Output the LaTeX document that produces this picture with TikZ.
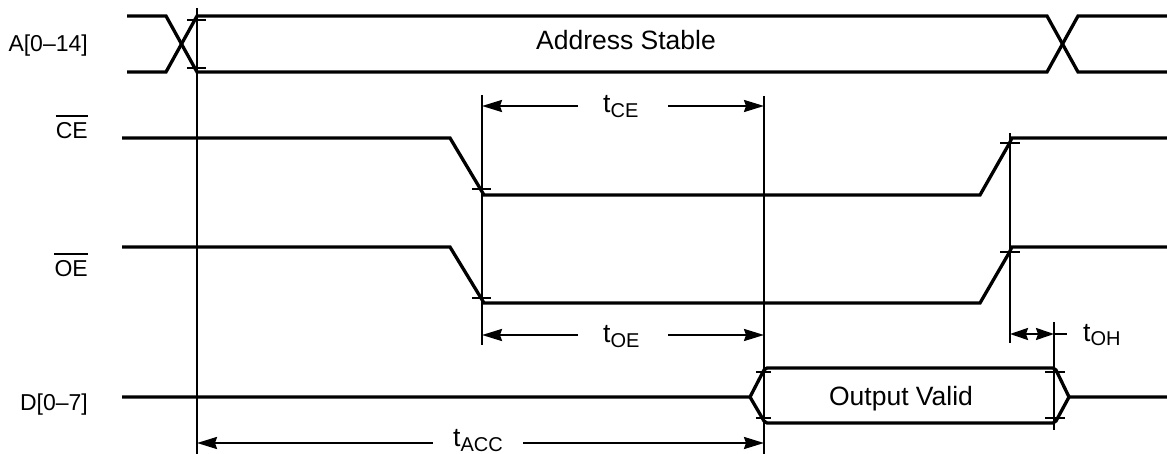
\documentclass[tikz,border=0pt]{standalone}
\usepackage{fontspec}
\setmainfont{Liberation Sans}
\usetikzlibrary{arrows.meta}
\newcommand\tlab[1]{t\raisebox{-5pt}{\fontsize{20}{20}\selectfont #1}}
\begin{document}
\begin{tikzpicture}[x=1pt,y=-1pt,
  sig/.style={line width=3.3pt},
  guide/.style={line width=2.2pt},
  tickmark/.style={line width=2pt},
  dim/.style={line width=2.2pt,-{Stealth[length=20pt,width=12pt,inset=2pt]}},
  dimsmall/.style={line width=2.2pt,{Stealth[length=18pt,width=12pt,inset=2pt]}-{Stealth[length=18pt,width=12pt,inset=2pt]}},
  lab/.style={inner sep=0pt,anchor=base east,font=\fontsize{23}{27}\selectfont},
  inner/.style={inner sep=0pt,anchor=base,font=\fontsize{26.5}{30}\selectfont},
  tl/.style={inner sep=0pt,anchor=base west,font=\fontsize{26.5}{30}\selectfont}]
\useasboundingbox (0,0) rectangle (1167,454);

% signal labels
\node[lab] (la) at (88,52) {A[0–14]};
\node[lab] (lce) at (88,139) {CE};
\node[lab] (loe) at (88,277) {OE};
\node[lab] (ld) at (88,410) {D[0–7]};
\draw[guide] ([yshift=7pt]lce.north west) -- ([yshift=7pt]lce.north east);
\draw[guide] ([yshift=7pt]loe.north west) -- ([yshift=7pt]loe.north east);

% address bus
\draw[sig] (127,16) -- (166,16) -- (197,72) -- (1047,72) -- (1078,16) -- (1167,16);
\draw[sig] (127,72) -- (166,72) -- (197,16) -- (1047,16) -- (1078,72) -- (1167,72);
\node[inner] (addr) at (626,50) {Address Stable};

% CE
\draw[sig] (122,138) -- (450,138) -- (481,190) -- (484,195) -- (980,195) -- (1009,144) -- (1012,138) -- (1167,138);
% OE
\draw[sig] (122,247) -- (450,247) -- (481,298) -- (484,303) -- (980,303) -- (1009,253) -- (1012,247) -- (1167,247);
% D
\draw[sig] (122,397) -- (750,397) -- (764,370) -- (767,368) -- (1053,368) -- (1056,370) -- (1069,397) -- (1167,397);
\draw[sig] (750,397) -- (764,421) -- (767,423) -- (1053,423) -- (1056,421) -- (1069,397);
\node[inner] (outv) at (901,405) {Output Valid};

% guide verticals
\coordinate (g1t) at (197,8);   \coordinate (g1b) at (197,454);
\coordinate (g2t) at (482,95);  \coordinate (g2b) at (482,345);
\coordinate (g3t) at (764,96);  \coordinate (g3b) at (764,454);
\coordinate (g4t) at (1010,133);\coordinate (g4b) at (1010,343);
\coordinate (g5t) at (1054,322);\coordinate (g5b) at (1054,430);
\draw[guide] (g1t) -- (g1b);
\draw[guide] (g2t) -- (g2b);
\draw[guide] (g3t) -- (g3b);
\draw[guide] (g4t) -- (g4b);
\draw[guide] (g5t) -- (g5b);

% ticks
\draw[tickmark] (187,20) -- (206,20);
\draw[tickmark] (187,68) -- (206,68);
\draw[tickmark] (472,189) -- (491,189);
\draw[tickmark] (472,298) -- (491,298);
\draw[tickmark] (1000,143) -- (1020,143);
\draw[tickmark] (1000,252) -- (1020,252);
\draw[tickmark] (756,372) -- (771,372);
\draw[tickmark] (756,418) -- (771,418);
\draw[tickmark] (1045,372) -- (1065,372);
\draw[tickmark] (1045,418) -- (1065,418);

% tCE
\node[tl] (tce) at (603,113) {\tlab{CE}};
\coordinate (tceL) at (578,106); \coordinate (tceR) at (668,106);
\draw[dim] (tceL) -- (g2t |- tceL);
\draw[dim] (tceR) -- (g3t |- tceR);
% tOE
\node[tl] (toe) at (603,342) {\tlab{OE}};
\coordinate (toeL) at (578,335); \coordinate (toeR) at (668,335);
\draw[dim] (toeL) -- (g2t |- toeL);
\draw[dim] (toeR) -- (g3t |- toeR);
% tOH
\coordinate (tohA) at (1010,334); \coordinate (tohB) at (1054,334); \coordinate (tohC) at (1067,334);
\draw[dimsmall] (tohA) -- (tohB);
\draw[guide] (tohB) -- (tohC);
\node[tl] (toh) at (1083,341) {\tlab{OH}};
% tACC
\node[tl] (tacc) at (453,446) {\tlab{ACC}};
\coordinate (taccL) at (433,443); \coordinate (taccR) at (523,443);
\draw[dim] (taccL) -- (g1t |- taccL);
\draw[dim] (taccR) -- (g3t |- taccR);
\end{tikzpicture}
\end{document}
